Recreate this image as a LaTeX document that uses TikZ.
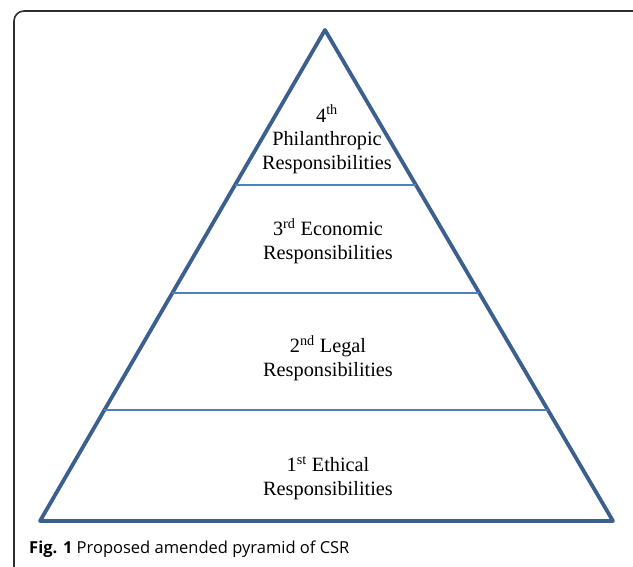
\documentclass[tikz,border=0pt]{standalone}
\usepackage{fontspec}
\setmainfont{Liberation Serif}
\newfontfamily\captionfont{Open Sans}
\usetikzlibrary{calc}

\definecolor{pyredge}{HTML}{3B5F8E}
\definecolor{pyrline}{HTML}{4F7FBF}
\definecolor{framegray}{HTML}{2E2E2E}

\begin{document}
\begin{tikzpicture}[
    x=1pt, y=-1pt,
    tier/.style={align=center, font=\fontsize{20.3}{23.5}\selectfont, inner sep=0pt},
    divider/.style={draw=pyrline, line width=1.3pt},
    edge/.style={draw=pyredge, line width=3.8pt, line join=round},
]
\useasboundingbox (0,0) rectangle (633,567);
\clip (0,0) rectangle (633,567);

% --- Outer frame ---
\draw[framegray, line width=1.6pt, rounded corners=10pt] (14,11) rectangle (650,590);

% --- Pyramid ---
\coordinate (apex) at (325,30);
\coordinate (bl) at (40,521);
\coordinate (br) at (613,521);
\draw[edge] (apex) -- (bl) -- (br) -- cycle;

% --- Tier dividers ---
\foreach \t/\name in {0.3157/d3, 0.5356/d2, 0.7739/d1} {
    \coordinate (\name-l) at ($(apex)!\t!(bl)$);
    \coordinate (\name-r) at ($(apex)!\t!(br)$);
    \draw[divider] (\name-l) -- (\name-r);
}

% --- Tier labels ---
\node[tier] (t4) at (327,139) {4\textsuperscript{th}\\Philanthropic\\Responsibilities};
\node[tier] (t3) at (328,241) {3\textsuperscript{rd} Economic\\Responsibilities};
\node[tier] (t2) at (328,358) {2\textsuperscript{nd} Legal\\Responsibilities};
\node[tier] (t1) at (328,478) {1\textsuperscript{st} Ethical\\Responsibilities};

% --- Caption ---
\node[anchor=west, inner sep=0pt, font=\captionfont\fontsize{16.5}{20}\selectfont] (cap) at (29,549)
    {\textbf{Fig. 1} Proposed amended pyramid of CSR};
\end{tikzpicture}
\end{document}
